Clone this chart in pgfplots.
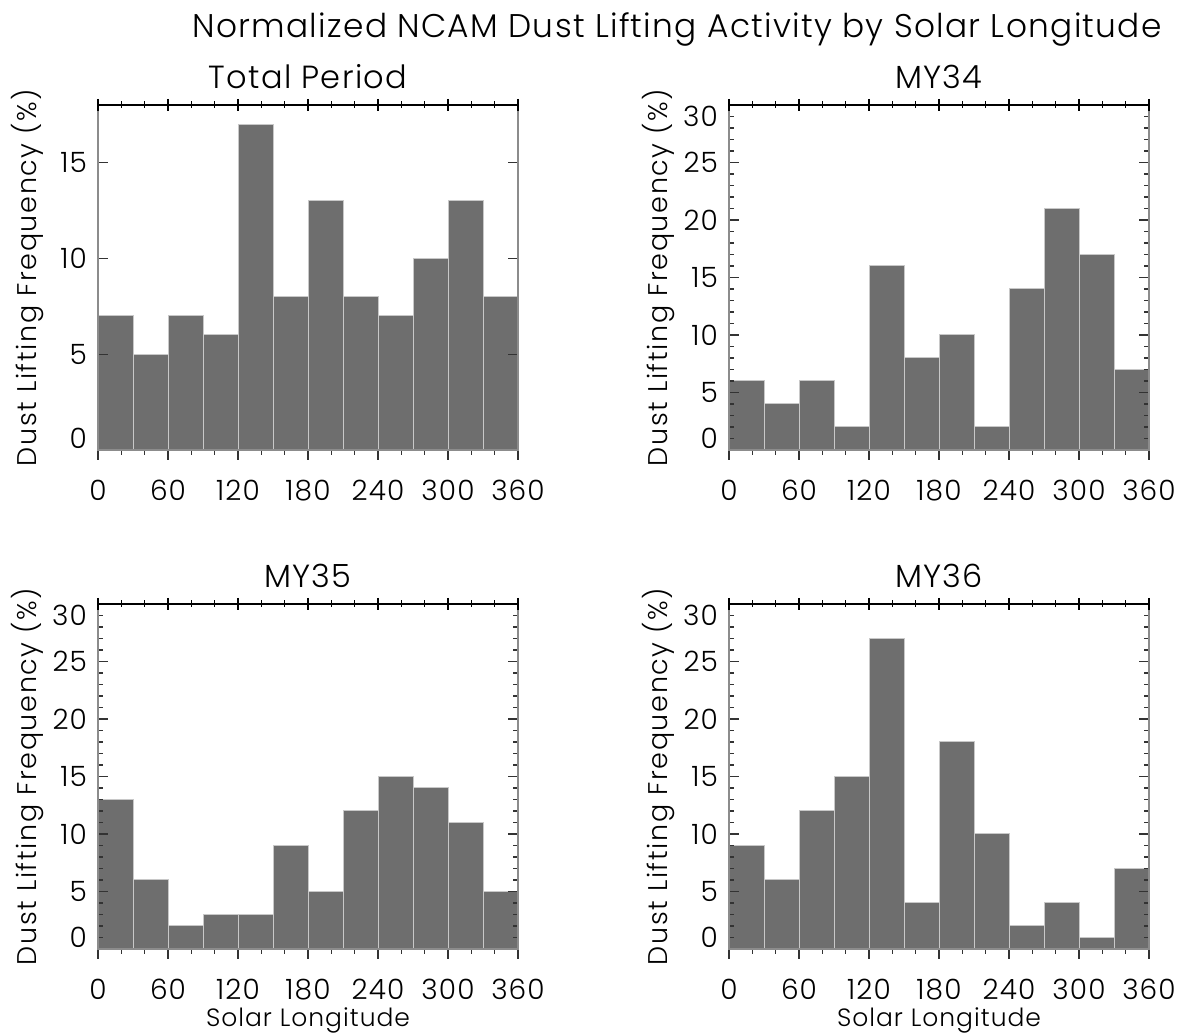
\documentclass[border=0pt]{standalone}
\usepackage{fontspec}
\setmainfont{Poppins Light}[LetterSpace=4]
\usepackage{pgfplots}
\pgfplotsset{compat=1.18}

\definecolor{barfill}{HTML}{6E6E6E}
\definecolor{baredge}{HTML}{C8C8C8}
\definecolor{framegray}{HTML}{8C8C8C}

\newcommand{\ticksize}{\fontsize{14}{16}\selectfont}
\newcommand{\labelsize}{\fontsize{12.5}{15}\selectfont}
\newcommand{\ylabelsize}{\fontsize{13.5}{16}\selectfont\addfontfeatures{LetterSpace=6}}
\newcommand{\titlesize}{\fontsize{16}{19}\selectfont}

\pgfplotsset{
  panel/.style={
    width=210pt, height=172.5pt, scale only axis,
    anchor=south west,
    xmin=0, xmax=360, ymin=0,
    xtick={0,60,...,360}, minor x tick num=2,
    xtick pos=left, ytick pos=both,
    xtick align=outside, ytick align=inside,
    major tick length=5pt, minor tick length=2.5pt,
    axis on top,
    axis line style={framegray, line width=0.7pt},
    every tick/.style={black!80, line width=0.6pt},
    /pgf/number format/assume math mode=true,
    tick label style={font=\ticksize},
    xticklabel style={yshift=-6.5pt},
    yticklabel style={xshift=-2pt},
    ylabel={Dust Lifting Frequency (\%)},
    every axis y label/.style={at={(axis description cs:0,0.5)}, xshift=-35pt, rotate=90, anchor=center, font=\ylabelsize},
    every axis x label/.style={at={(axis description cs:0.5,0)}, anchor=base, yshift=-39pt, font=\labelsize},
    every axis title/.style={at={(axis description cs:0.5,1)}, anchor=base, yshift=8pt, font=\titlesize},
  },
  big/.style={
    ymax=30, ytick={0,5,...,30}, minor y tick num=4,
    yticklabels={\raisebox{0.5pt}[0pt][0pt]{0},5,10,15,20,25,\raisebox{-11pt}[0pt][0pt]{30}},
  },
  bars/.style={ybar interval, fill=barfill, draw=baredge, line width=0.5pt},
  topline/.style={
    width=210pt, height=172.5pt, scale only axis,
    anchor=south west,
    xmin=0, xmax=360, ymin=0, ymax=1,
    axis x line*=top, axis y line=none,
    xtick={0,60,...,360}, minor x tick num=2,
    xticklabels={}, xtick align=center,
    major tick length=6pt, minor tick length=3.5pt,
    axis line style={black, line width=0.7pt},
    every tick/.style={black, line width=0.6pt},
  },
}

\begin{document}
\begin{tikzpicture}
\useasboundingbox (0pt,0pt) rectangle (591pt,518pt);

\node[anchor=base, font=\fontsize{16.4}{19}\selectfont] at (338.5pt,499pt) {Normalized NCAM Dust Lifting Activity by Solar Longitude};

% Total period
\begin{axis}[panel, at={(49pt,293pt)}, ymax=18, ytick={0,5,10,15},
  yticklabels={\raisebox{0.5pt}[0pt][0pt]{0},5,10,15},
  title={Total Period}]
\addplot[bars] coordinates {
  (0,7) (30,5) (60,7) (90,6) (120,17) (150,8) (180,13) (210,8)
  (240,7) (270,10) (300,13) (330,8) (360,8)};
\end{axis}
\begin{axis}[topline, at={(49pt,293pt)}]\end{axis}

% MY34
\begin{axis}[panel, big, at={(364.5pt,293pt)}, title={MY34}]
\addplot[bars] coordinates {
  (0,6) (30,4) (60,6) (90,2) (120,16) (150,8) (180,10) (210,2)
  (240,14) (270,21) (300,17) (330,7) (360,7)};
\end{axis}
\begin{axis}[topline, at={(364.5pt,293pt)}]\end{axis}

% MY35
\begin{axis}[panel, big, at={(49pt,43.5pt)}, title={MY35}, xlabel={Solar Longitude}]
\addplot[bars] coordinates {
  (0,13) (30,6) (60,2) (90,3) (120,3) (150,9) (180,5) (210,12)
  (240,15) (270,14) (300,11) (330,5) (360,5)};
\end{axis}
\begin{axis}[topline, at={(49pt,43.5pt)}]\end{axis}

% MY36
\begin{axis}[panel, big, at={(364.5pt,43.5pt)}, title={MY36}, xlabel={Solar Longitude}]
\addplot[bars] coordinates {
  (0,9) (30,6) (60,12) (90,15) (120,27) (150,4) (180,18) (210,10)
  (240,2) (270,4) (300,1) (330,7) (360,7)};
\end{axis}
\begin{axis}[topline, at={(364.5pt,43.5pt)}]\end{axis}
\end{tikzpicture}
\end{document}
